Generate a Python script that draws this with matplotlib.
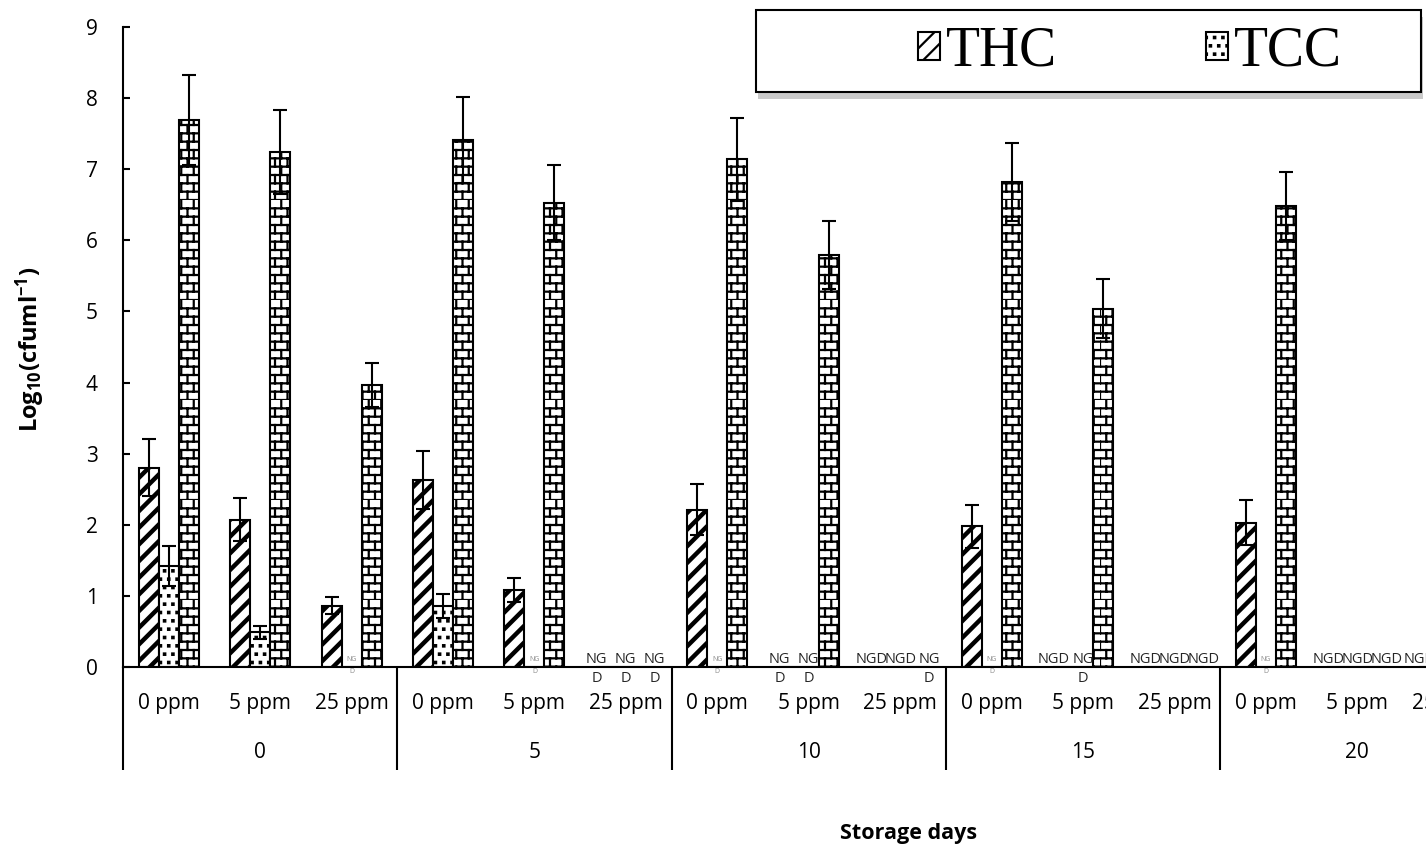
import warnings
import numpy as np
import matplotlib
matplotlib.use('Agg')
import matplotlib.pyplot as plt
import matplotlib.hatch as mhatch
from matplotlib.path import Path
from matplotlib.patches import Rectangle

warnings.filterwarnings('ignore')

# Datos (15 posiciones: 5 dias x 3 concentraciones)
dias = ['0', '5', '10', '15', '20']
concentraciones = ['0 ppm', '5 ppm', '25 ppm']

thc = [2.80, 2.07, 0.86, 2.63, 1.08, 0, 2.21, 0, 0, 1.98, 0, 0, 2.03, 0, 0]
thc_err = [0.40, 0.30, 0.12, 0.41, 0.17, 0, 0.36, 0, 0, 0.30, 0, 0, 0.32, 0, 0]
tcc = [1.42, 0.49, 0, 0.86, 0, 0, 0, 0, 0, 0, 0, 0, 0, 0, 0]
tcc_err = [0.28, 0.09, 0, 0.17, 0, 0, 0, 0, 0, 0, 0, 0, 0, 0, 0]
tercera = [7.69, 7.24, 3.97, 7.41, 6.53, 0, 7.14, 5.79, 0, 6.82, 5.04, 0, 6.48, 0, 0]
tercera_err = [0.63, 0.59, 0.31, 0.61, 0.53, 0, 0.58, 0.48, 0, 0.55, 0.41, 0, 0.48, 0, 0]

# etiquetas "NGD" ('ng' = etiqueta diminuta gris)
etiquetas_thc = ['', '', '', '', '', 'NG\nD', '', 'NG\nD', 'NGD', '', 'NGD', 'NGD', '', 'NGD', 'NGD']
etiquetas_tcc = ['', '', 'ng', '', 'ng', 'NG\nD', 'ng', 'NG\nD', 'NGD', 'ng', 'NG\nD', 'NGD', 'ng', 'NGD', 'NGD']
etiquetas_ter = ['', '', '', '', '', 'NG\nD', '', '', 'NG\nD', '', '', 'NGD', '', 'NGD', 'NGD']


class BrickHatch(mhatch.HatchPatternBase):  # patron de ladrillos
    def __init__(self, hatch, density):
        n = hatch.count('B')
        self.rows = 12 * n
        self.cols = 8
        self.num_vertices = self.rows * (1 + self.cols) * 2

    def set_vertices_and_codes(self, vertices, codes):
        h = 1.0 / self.rows
        w = 1.0 / self.cols
        v = []
        for r in range(self.rows):
            y0 = r * h
            v += [(0, y0), (1, y0)]
            shift = 0.5 * w if r % 2 else 0.0
            for c in range(self.cols):
                xx = c * w + shift
                v += [(xx, y0), (xx, y0 + h)]
        vertices[:] = v
        codes[0::2] = Path.MOVETO
        codes[1::2] = Path.LINETO


class SquareDots(mhatch.HatchPatternBase):  # puntos cuadrados
    def __init__(self, hatch, density):
        n = hatch.count('S')
        self.rows = 12 * n
        self.num_vertices = self.rows * self.rows * 5

    def set_vertices_and_codes(self, vertices, codes):
        paso = 1.0 / self.rows
        s = 0.007
        v = []
        for r in range(self.rows):
            shift = 0.5 * paso if r % 2 else 0.0
            for c in range(self.rows):
                cx = (c * paso + shift + 0.25 * paso) % 1.0
                cy = r * paso + 0.5 * paso
                v += [(cx - s, cy - s), (cx + s, cy - s), (cx + s, cy + s), (cx - s, cy + s), (cx - s, cy - s)]
        vertices[:] = v
        cod = [Path.MOVETO, Path.LINETO, Path.LINETO, Path.LINETO, Path.CLOSEPOLY]
        codes[:] = cod * (self.rows * self.rows)


mhatch._hatch_types.append(BrickHatch)
mhatch._hatch_types.append(SquareDots)

plt.rcParams['font.family'] = ['Open Sans', 'DejaVu Sans']
plt.rcParams['mathtext.fontset'] = 'custom'
plt.rcParams['mathtext.rm'] = 'Open Sans'
plt.rcParams['mathtext.bf'] = 'Open Sans:bold'
plt.rcParams['hatch.linewidth'] = 1.6

fig = plt.figure(figsize=(14.26, 8.49), dpi=100)
ax = fig.add_axes([123 / 1426, 182 / 849, 1371.4 / 1426, 640 / 849])

x = np.arange(len(thc))
ancho = 0.219

barras_thc = ax.bar(x - ancho, thc, ancho, color='white', edgecolor='black', linewidth=1.5, hatch='//')
barras_tcc = ax.bar(x, tcc, ancho, color='white', edgecolor='black', linewidth=1.5, hatch='S')
barras_ter = ax.bar(x + ancho, tercera, ancho, color='white', edgecolor='black', linewidth=1.5, hatch='B')
for b in barras_thc:
    try:
        b.set_hatch_linewidth(3.2)
    except AttributeError:
        pass

# barras de error (solo donde hay valor)
for pos, vals, errs in [(x - ancho, thc, thc_err), (x, tcc, tcc_err), (x + ancho, tercera, tercera_err)]:
    vals = np.array(vals)
    errs = np.array(errs)
    m = vals > 0
    ax.errorbar(pos[m], vals[m], yerr=errs[m], fmt='none', ecolor='black',
                elinewidth=1.5, capsize=5, capthick=1.5, zorder=5)

# etiquetas NGD
separacion = 0.317
for k, etiquetas in enumerate([etiquetas_thc, etiquetas_tcc, etiquetas_ter]):
    for i, txt in enumerate(etiquetas):
        if txt == '':
            continue
        if txt == 'ng':
            xp = x[i] + (k - 1) * ancho
            ax.annotate('NG', (xp, 0.084), ha='center', va='baseline', fontsize=5,
                        color='#8c8c8c', annotation_clip=False)
            ax.annotate('D', (xp, 0.084), xytext=(0, -8.6), textcoords='offset points',
                        ha='center', va='baseline', fontsize=5, color='#8c8c8c',
                        annotation_clip=False)
            continue
        xp = x[i] + (k - 1) * separacion
        lineas = txt.split('\n')
        ax.annotate(lineas[0], (xp, 0.056), ha='center', va='baseline', fontsize=10.5,
                    color='#262626', annotation_clip=False)
        if len(lineas) > 1:
            ax.annotate(lineas[1], (xp, 0.056), xytext=(0, -13.7), textcoords='offset points',
                        ha='center', va='baseline', fontsize=10.5, color='#262626',
                        annotation_clip=False)

ax.set_xlim(-0.5, 14.5)
ax.set_ylim(0, 9)
ax.set_yticks(range(10))
ax.tick_params(axis='y', direction='in', length=5, width=1.5, labelsize=15, pad=18)
ax.set_xticks(x, concentraciones * len(dias))
ax.tick_params(axis='x', which='major', length=0, labelsize=15, pad=19)
ax.set_xticks(np.arange(-0.5, 15, 3), minor=True)
ax.tick_params(axis='x', which='minor', direction='out', length=74, width=1.5)

for d, dia in enumerate(dias):
    ax.annotate(dia, (3 * d + 1, -0.134), xycoords=('data', 'axes fraction'),
                ha='center', va='center', fontsize=15, annotation_clip=False)

ax.spines['top'].set_visible(False)
ax.spines['right'].set_visible(False)
ax.spines['left'].set_linewidth(1.5)
ax.spines['bottom'].set_linewidth(1.5)

fig.text(30 / 1426, 1 - 349 / 849, r'$\mathbf{Log_{10}(cfuml^{-1})}$', rotation=90,
         ha='center', va='center', fontsize=17)
fig.text(909 / 1426, 1 - 833 / 849, 'Storage days', ha='center', va='center',
         fontsize=15.5, fontweight='bold')

# marco de la leyenda con sombra
sombra = Rectangle((758 / 1426, 1 - 99 / 849), 665 / 1426, 82 / 849, transform=fig.transFigure,
                   facecolor='#b4b4b4', edgecolor='none', alpha=0.7, zorder=8)
marco = Rectangle((756 / 1426, 1 - 92 / 849), 665 / 1426, 82 / 849, transform=fig.transFigure,
                  facecolor='white', edgecolor='black', linewidth=1.5, zorder=9)
fig.patches.extend([sombra, marco])

leg = fig.legend([barras_thc, barras_tcc], ['THC', 'TCC'], ncol=2, frameon=False,
                 loc='center left', bbox_to_anchor=(918 / 1426, 1 - 52 / 849),
                 borderpad=0, borderaxespad=0, handlelength=0.4, handleheight=0.4,
                 handletextpad=0.1, columnspacing=2.68,
                 prop={'family': 'Liberation Serif', 'size': 40})
leg.set_zorder(10)

fig.savefig('out.png', dpi=100)
